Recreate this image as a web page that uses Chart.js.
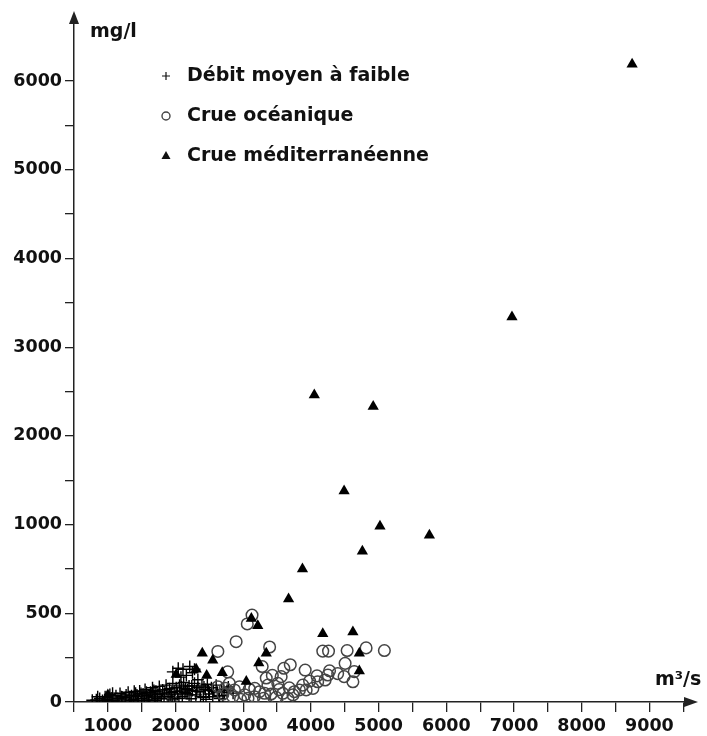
<!DOCTYPE html>
<html>
<head>
<meta charset="utf-8">
<script src="https://cdn.jsdelivr.net/npm/chart.js"></script>
<style>
    body { margin: 0; background: #fff; }
</style>
</head>
<body>
<canvas id="grafico" width="707" height="736"></canvas>
<script>

/*
* Dados (m3/s , mg/l)
*/
const debitMoyen = [
    [770, 10], [830, 12], [880, 20], [920, 8], [960, 30], [990, 15], [1030, 42], [1060, 22], [1090, 10],
    [1120, 35], [1150, 18], [1180, 48], [1210, 28], [1240, 12], [1270, 40], [1300, 55], [1320, 22],
    [1350, 35], [1380, 15], [1410, 50], [1440, 30], [1470, 62], [1500, 20], [1520, 45], [1550, 70],
    [1580, 35], [1600, 12], [1630, 55], [1660, 80], [1690, 28], [1710, 60], [1740, 42], [1760, 88],
    [1790, 18], [1810, 68], [1840, 50], [1860, 95], [1890, 30], [1910, 75], [1940, 55], [1960, 105],
    [1990, 22], [2010, 80], [2030, 45], [2060, 95], [2080, 62], [2100, 30], [2120, 110], [2150, 75],
    [2170, 48], [2200, 90], [2230, 18], [2250, 65], [2280, 105], [2300, 40], [2330, 80], [2360, 58],
    [2390, 95], [2410, 25], [2440, 70], [2470, 100], [2500, 45], [2530, 80], [2560, 60], [2600, 95],
    [2640, 35], [2680, 70], [2720, 55], [2780, 85], [2850, 50], [1450, 8], [1700, 10], [1950, 12],
    [2200, 40], [2450, 15], [2650, 20],
    [850, 30], [1000, 5], [1070, 50], [1140, 5], [1200, 30], [1260, 25], [1340, 8], [1390, 60],
    [1430, 40], [1490, 48], [1540, 10], [1570, 55], [1620, 28], [1650, 45], [1680, 65], [1730, 20],
    [1770, 50], [1830, 30], [1870, 70], [1920, 40], [1980, 60], [2050, 20], [2090, 85], [2140, 55],
    [2180, 70], [2240, 90], [2310, 60], [2370, 30], [2420, 85], [2490, 65], [2550, 30], [2620, 55],
    [2700, 35], [2760, 65],
    [1960, 170], [2040, 190], [2110, 185], [2160, 150], [2210, 200], [2250, 165], [2330, 125], [2080, 140], [2280, 185]
]

const crueOceanique = [
    [3130, 490], [3060, 440], [2895, 340], [2625, 285], [3390, 310], [3280, 200], [2770, 170], [3600, 190],
    [3695, 210], [3430, 150], [3340, 135], [3365, 95], [3510, 105], [3560, 143], [4175, 287], [4260, 287],
    [4535, 290], [4815, 305], [5085, 290], [4505, 218], [3915, 180], [4090, 147], [4275, 176], [4250, 152],
    [4395, 160], [4490, 143], [4640, 171], [4620, 114], [3980, 118], [4100, 114], [4210, 124], [4030, 77],
    [3930, 68], [3830, 68], [3755, 58], [2795, 105], [2870, 68], [2945, 86], [3020, 40], [3090, 72],
    [3165, 30], [3240, 58], [3300, 21], [3410, 45], [3485, 26], [3585, 49], [3660, 21], [3735, 40],
    [2735, 77], [2845, 30], [3070, 21], [2625, 86], [3170, 77], [3315, 49], [2700, 45], [2960, 15],
    [3530, 70], [3680, 80], [3880, 95]
]

const crueMediterraneenne = [
    [8745, 6190], [6970, 3340], [4050, 2460], [4920, 2330], [4490, 1380], [5020, 990], [4760, 850],
    [5750, 940], [3875, 750], [3670, 580], [3120, 470], [3215, 430], [2395, 275], [2550, 235],
    [3340, 275], [3230, 220], [2305, 185], [2460, 150], [2690, 165], [3045, 115], [4175, 385],
    [4620, 395], [4715, 275], [4715, 175], [2010, 155], [1000, 40]
]

const rotulosY = ['0', '500', '1000', '2000', '3000', '4000', '5000', '6000']
const rotulosX = [1000, 2000, 3000, 4000, 5000, 6000, 7000, 8000, 9000]

const nomesLegenda = ['Débit moyen à faible', 'Crue océanique', 'Crue méditerranéenne']

// eixo y: 0-1000 de 500 em 500, depois de 1000 em 1000 (mesmo espaçamento)
const paraUnidade = (v) => v <= 1000 ? v / 500 : 2 + (v - 1000) / 1000
const pontos = (lista) => lista.map(p => ({ x: p[0], y: paraUnidade(p[1]) }))

// marcas: de 500 em 500 no x, meia unidade no y
const marcasX = []
for (let v = 500; v <= 9500; v += 500) marcasX.push({ value: v })
const marcasY = []
for (let u = 0; u <= 7; u += 0.5) marcasY.push({ value: u })

const fonte = 'DejaVu Sans'
const corEixo = '#222'

/*
* Plugin: setas, títulos dos eixos e legenda
*/
const extras = {
    id: 'extras',
    afterDraw(chart) {
        const ctx = chart.ctx
        const area = chart.chartArea
        ctx.save()
        ctx.fillStyle = corEixo

        // seta x
        ctx.beginPath()
        ctx.moveTo(area.right + 8, area.bottom)
        ctx.lineTo(area.right - 6, area.bottom - 5)
        ctx.lineTo(area.right - 6, area.bottom + 5)
        ctx.closePath()
        ctx.fill()

        // seta y
        ctx.beginPath()
        ctx.moveTo(area.left, area.top - 8)
        ctx.lineTo(area.left - 5, area.top + 5)
        ctx.lineTo(area.left + 5, area.top + 5)
        ctx.closePath()
        ctx.fill()

        ctx.fillStyle = '#111'
        ctx.font = 'bold 19px ' + fonte
        ctx.textBaseline = 'middle'
        ctx.textAlign = 'left'
        ctx.fillText('mg/l', 90, 32)
        ctx.fillText('m³/s', 655, 680)

        // legenda
        const ys = [76, 116, 156]
        nomesLegenda.forEach((nome, i) => {
            const x = 166
            const y = ys[i]
            ctx.strokeStyle = i === 1 ? '#444' : '#111'
            ctx.lineWidth = i === 1 ? 1.4 : 1.2
            ctx.fillStyle = '#111'
            if (i === 0) {
                ctx.beginPath()
                ctx.moveTo(x - 4, y); ctx.lineTo(x + 4, y)
                ctx.moveTo(x, y - 4); ctx.lineTo(x, y + 4)
                ctx.stroke()
            } else if (i === 1) {
                ctx.beginPath()
                ctx.arc(x, y, 4, 0, Math.PI * 2)
                ctx.stroke()
            } else {
                ctx.beginPath()
                ctx.moveTo(x, y - 5)
                ctx.lineTo(x - 4.5, y + 3)
                ctx.lineTo(x + 4.5, y + 3)
                ctx.closePath()
                ctx.fill()
            }
            ctx.fillText(nome, 187, y)
        })
        ctx.restore()
    }
}

const ctx = document.getElementById('grafico').getContext('2d')

const meuGrafico = new Chart(ctx, {
    type: 'scatter',
    data: {
        datasets: [
            {
                label: nomesLegenda[2],
                data: pontos(crueMediterraneenne),
                pointStyle: 'triangle',
                pointRadius: 6.5,
                backgroundColor: '#000',
                borderColor: '#000',
                borderWidth: 0,
                order: 0
            },
            {
                label: nomesLegenda[1],
                data: pontos(crueOceanique),
                pointStyle: 'circle',
                pointRadius: 5.8,
                backgroundColor: 'rgba(0,0,0,0)',
                borderColor: '#444',
                borderWidth: 1.5,
                order: 1
            },
            {
                label: nomesLegenda[0],
                data: pontos(debitMoyen),
                pointStyle: 'cross',
                pointRadius: 6,
                borderColor: '#000',
                borderWidth: 1.4,
                order: 2
            }
        ]
    },
    options: {
        responsive: false,
        animation: false,
        layout: { padding: { top: 19, right: 17, left: 0, bottom: 0 } },
        plugins: {
            legend: { display: false },
            tooltip: { enabled: false }
        },
        scales: {
            x: {
                type: 'linear',
                min: 500,
                max: 9600,
                afterFit: (scale) => { scale.height = 34 },
                afterBuildTicks: (scale) => { scale.ticks = marcasX.map(t => ({ value: t.value })) },
                border: { display: true, color: corEixo, width: 1.5 },
                grid: { drawOnChartArea: false, drawTicks: true, tickLength: 10, color: corEixo, lineWidth: 1.3 },
                ticks: {
                    autoSkip: false,
                    maxRotation: 0,
                    padding: 4,
                    color: '#111',
                    font: { family: fonte, size: 17.5, weight: 'bold' },
                    callback: (v) => rotulosX.includes(v) ? String(v) : ''
                }
            },
            y: {
                type: 'linear',
                min: 0,
                max: 7.7,
                afterFit: (scale) => { scale.width = 74 },
                afterBuildTicks: (scale) => { scale.ticks = marcasY.map(t => ({ value: t.value })) },
                border: { display: true, color: corEixo, width: 1.5 },
                grid: { drawOnChartArea: false, drawTicks: true, tickLength: 9, color: corEixo, lineWidth: 1.3 },
                ticks: {
                    autoSkip: false,
                    padding: 3,
                    color: '#111',
                    font: { family: fonte, size: 17.5, weight: 'bold' },
                    callback: (v) => Number.isInteger(v) ? rotulosY[v] : ''
                }
            }
        }
    },
    plugins: [extras]
})
</script>
</body>
</html>
